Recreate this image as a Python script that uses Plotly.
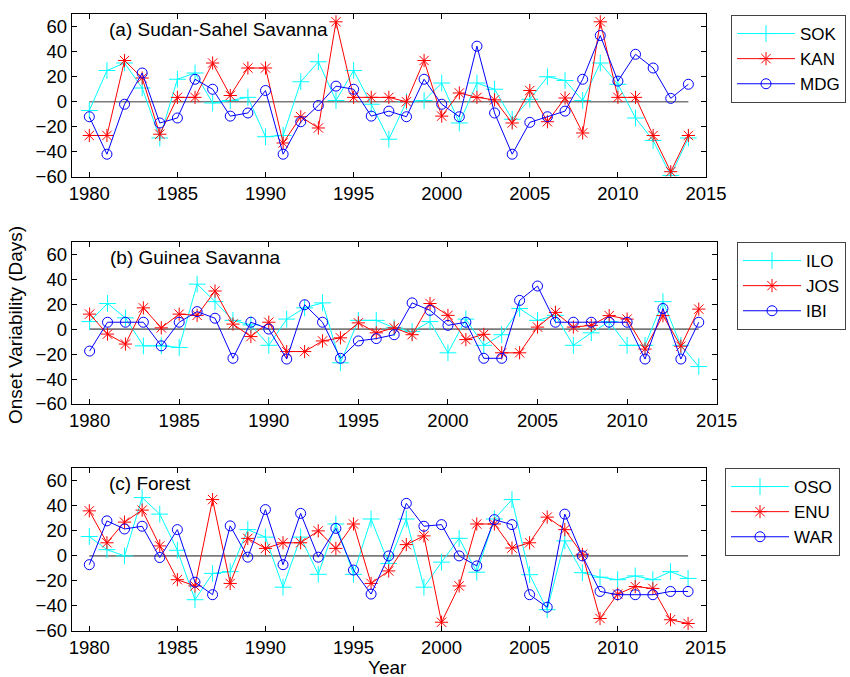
import plotly.graph_objects as go

years = list(range(1980, 2015))

# (a) Sudan-Sahel Savanna
sok = [-7, 25, 31, 11, -29, 18, 23, -1, 1, 3.5, -28, -27, 16, 32, 1, 25, -2, -30,
       0, 1, 15, -17, 15, 10, -14, 2, 20, 17, 1, 31, 14, -13, -31, -59, -29]
kan = [-27, -27, 33, 19, -26, 3.5, 3.5, 31, 5, 27, 27, -33, -12, -21, 64, 3.5, 3.5, 3.5,
       0, 33, -11.5, 7, 3.5, 1.5, -17, 9, -16, 3, -25, 64, 3.5, 3.5, -27, -56, -27]
mdg = [-12, -42, -2, 23, -17, -13, 18, 10, -11.5, -9, 9, -42, -16, -3, 12.5, 10, -11.5, -7.5,
       -12, 18, -2, -12, 44.5, -9, -42, -16.5, -12, -7.5, 18, 53, 16.5, 38, 27, 2.7, 14]

# (b) Guinea Savanna
ilo = [6, 20.5, 9, -13.4, -13.4, -14.7, 36, 22, 7, 3.4, -13, 8, 17, 21, -27, 7, 7, 1,
       -2, 6, -19, 8, -13, -4.5, 16.5, 7, 11, -13, -3, 6, -13, -13, 22, -13, -30]
jos = [12, -4, -12, 17, 1, 12, 11, 30.5, 4, -6, 5.5, -18, -18, -9.5, -7, 5, -3, 1,
       -4.5, 20.5, 11, -8.4, -4.2, -19, -19, 1.6, 13.4, 1.6, 3, 10.8, 8, -16, 10.8, -13.7, 16]
ibi = [-17.6, 5.5, 5.5, 5.5, -13.4, 5.5, 14, 8.7, -23.4, 5.5, 0, -24, 19.5, 5.5, -23.4, -9.5, -7.6, -4.5,
       21, 15, 3, 5.5, -23.4, -23.4, 23, 34.5, 5.5, 5.5, 5.5, 5.5, 5.5, -24, 16.5, -24, 5.5]

# (c) Forest
oso = [15.5, 5, 0, 46.6, 33.4, 4.5, -35, -14, -12.6, 21, 15, -25, 15, -14.7, 25.5, -14.7, 29.5, -6,
       29.5, -25, -5, 14, -13, 29.5, 45, -15, -43, 12, -13.4, -17, -19, -16, -19, -12.6, -18]
enu = [36, 10.5, 27, 36.6, 8, -19, -24, 45, -22, 14, 6, 10.5, 10.5, 20, 6, 25.5, -22, -12,
       9, 16, -53, -24, 25.5, 25.5, 6.3, 10.5, 31, 21, 1.3, -50, -30.5, -24.5, -26, -51, -54]
war = [-7, 28, 21.5, 23.7, -1.3, 21, -21, -31, 24, -1, 37, -7, 34, -1, 22, -11.3, -30.5, 0,
       42, 23.7, 25, 0, -8, 29, 25, -31, -41, 33.4, 0, -28.4, -31, -31, -31, -28.4, -28.4]

panel_titles = ["(a) Sudan-Sahel Savanna", "(b) Guinea Savanna", "(c) Forest"]
panel_series = [
    [("SOK", sok), ("KAN", kan), ("MDG", mdg)],
    [("ILO", ilo), ("JOS", jos), ("IBI", ibi)],
    [("OSO", oso), ("ENU", enu), ("WAR", war)],
]

W, H = 850, 677
FONT = "Liberation Sans, Arial, sans-serif"

# axes boxes in pixels: (left, right, top, bottom)
boxes = [(71.7, 706.0, 14.3, 176.7), (71.7, 716.7, 241.7, 404.0), (71.7, 705.7, 468.3, 631.0)]
# legend top-left corners in pixels
legend_pos = [(731, 15), (737, 242), (725, 468)]

styles = [
    dict(color="#00FFFF", symbol="cross-thin-open", size=12),
    dict(color="#FF0000", symbol="asterisk-open", size=11),
    dict(color="#0000FF", symbol="circle-open", size=10),
]

fig = go.Figure()

for i, (title, series) in enumerate(zip(panel_titles, panel_series)):
    n = "" if i == 0 else str(i + 1)
    xa, ya = "x" + n, "y" + n
    leg = "legend" + n
    # zero reference line
    fig.add_trace(go.Scatter(
        x=[years[0], years[-1]], y=[0, 0], mode="lines",
        line=dict(color="#7a7a7a", width=1.6),
        xaxis=xa, yaxis=ya, showlegend=False, hoverinfo="skip"))
    for (name, vals), st in zip(series, styles):
        fig.add_trace(go.Scatter(
            x=years, y=vals, name=name, mode="lines+markers",
            line=dict(color=st["color"], width=1),
            marker=dict(symbol=st["symbol"], size=st["size"], color=st["color"],
                        line=dict(color=st["color"], width=1)),
            xaxis=xa, yaxis=ya, legend=leg))

    l, r, t, b = boxes[i]
    axis_common = dict(showline=True, linecolor="black", linewidth=1, mirror="ticks",
                       ticks="inside", ticklen=5, tickcolor="black", tickwidth=1,
                       showgrid=False, zeroline=False,
                       tickfont=dict(family=FONT, size=18.5, color="black"))
    fig.layout["xaxis" + n] = dict(
        domain=[l / W, r / W], anchor=ya, range=[1979, 2015],
        tickvals=list(range(1980, 2016, 5)), **axis_common)
    fig.layout["yaxis" + n] = dict(
        domain=[1 - b / H, 1 - t / H], anchor=xa, range=[-60, 70],
        tickvals=list(range(-60, 61, 20)), **axis_common)

    fig.add_annotation(x=1981, y=57.5, xref=xa, yref=ya, text=title, showarrow=False,
                       xanchor="left", yanchor="middle",
                       font=dict(family=FONT, size=19, color="black"))

    lx, ly = legend_pos[i]
    fig.layout[leg] = dict(
        x=lx / W, y=1 - ly / H, xanchor="left", yanchor="top",
        bordercolor="#444444", borderwidth=1, bgcolor="white",
        font=dict(family=FONT, size=17, color="black"),
        itemwidth=58, tracegroupgap=0, itemclick=False)

fig.add_annotation(x=387 / W, y=1 - 667 / H, xref="paper", yref="paper", text="Year",
                   showarrow=False, xanchor="center", yanchor="middle",
                   font=dict(family=FONT, size=19, color="black"))
fig.add_annotation(x=15 / W, y=1 - 325 / H, xref="paper", yref="paper",
                   text="Onset Variability (Days)", textangle=-90, showarrow=False,
                   xanchor="center", yanchor="middle",
                   font=dict(family=FONT, size=19, color="black"))

fig.update_layout(width=W, height=H, margin=dict(l=0, r=0, t=0, b=0, autoexpand=False),
                  paper_bgcolor="white", plot_bgcolor="white")

fig.write_html("out.html")
